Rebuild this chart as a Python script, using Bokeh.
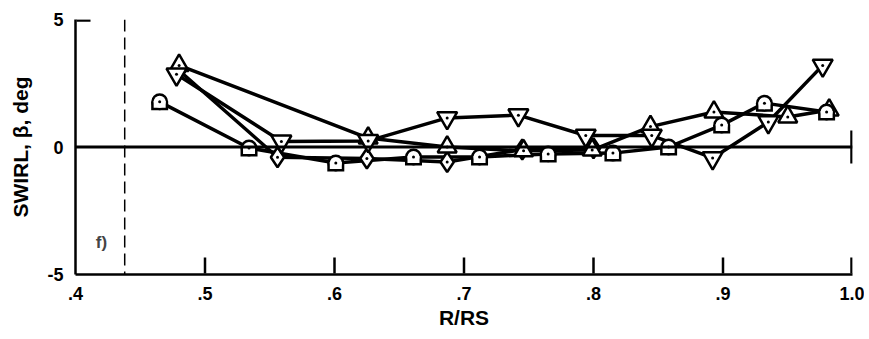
from bokeh.plotting import figure
from bokeh.models import Range1d, FixedTicker, Span, Label, Arrow
from bokeh.embed import file_html
from bokeh.resources import INLINE

# ---- data ----
tomb_x = [0.465, 0.534, 0.601, 0.661, 0.712, 0.765, 0.815, 0.858, 0.899, 0.932, 0.980]
tomb_y = [1.77, -0.04, -0.63, -0.39, -0.39, -0.27, -0.24, 0.00, 0.86, 1.72, 1.37]

dia_x = [0.480, 0.556, 0.625, 0.687, 0.745, 0.800]
dia_y = [3.00, -0.40, -0.45, -0.59, -0.10, -0.05]

dtri_x = [0.478, 0.559, 0.626, 0.687, 0.742, 0.794, 0.845, 0.892, 0.935, 0.977]
dtri_y = [2.85, 0.22, 0.24, 1.14, 1.25, 0.45, 0.45, -0.43, 0.98, 3.20]

utri_x = [0.480, 0.626, 0.687, 0.746, 0.799, 0.844, 0.893, 0.950, 0.982]
utri_y = [3.20, 0.35, 0.00, -0.15, -0.12, 0.80, 1.37, 1.18, 1.45]

x_ticks = [0.4, 0.5, 0.6, 0.7, 0.8, 0.9, 1.0]
x_tick_labels = [".4", ".5", ".6", ".7", ".8", ".9", "1.0"]
y_ticks = [-5, 0, 5]
y_tick_labels = ["-5", "0", "5"]
x_label = "R/RS"
y_label = "SWIRL, \u03b2, deg"
panel_label = "f)"
panel_label_pos = (0.42, -3.75)
hub_x = 0.438
zero_tick_half = 0.65

FONT = "Liberation Sans"
X_MIN, X_MAX = 0.4, 1.0
Y_MIN, Y_MAX = -5.0, 5.0
FRAME_W, FRAME_H = 777, 255
PPU = FRAME_H / (Y_MAX - Y_MIN)
PPX = FRAME_W / (X_MAX - X_MIN)

p = figure(frame_width=FRAME_W, frame_height=FRAME_H,
           x_range=Range1d(X_MIN, X_MAX), y_range=Range1d(Y_MIN, Y_MAX),
           output_backend="svg", toolbar_location=None,
           min_border_left=75, min_border_right=12, min_border_top=19, min_border_bottom=62)
p.outline_line_color = None
p.grid.visible = False
p.background_fill_color = "white"
p.border_fill_color = "white"

for ax in (p.xaxis[0], p.yaxis[0]):
    ax.axis_line_width = 2.5
    ax.axis_line_color = "black"
    ax.major_tick_line_color = None
    ax.major_tick_in = 0
    ax.major_tick_out = 0
    ax.minor_tick_line_color = None
    ax.major_label_text_font = FONT
    ax.major_label_text_font_style = "bold"
    ax.major_label_text_font_size = "18px"
    ax.major_label_text_color = "black"
    ax.axis_label_text_font = FONT
    ax.axis_label_text_font_style = "bold"
    ax.axis_label_text_font_size = "21px"
    ax.axis_label_text_color = "black"

p.xaxis.ticker = FixedTicker(ticks=x_ticks)
p.xaxis.major_label_overrides = {t: l for t, l in zip(x_ticks, x_tick_labels)}
p.xaxis.major_label_standoff = 12
p.xaxis.axis_label = x_label
p.xaxis.axis_label_standoff = 3

p.yaxis.ticker = FixedTicker(ticks=y_ticks)
p.yaxis.major_label_overrides = {t: l for t, l in zip(y_ticks, y_tick_labels)}
p.yaxis.major_label_standoff = 12
p.yaxis.axis_label = y_label
p.yaxis.axis_label_standoff = 12

# zero line and hub line
p.add_layout(Span(location=0, dimension="width", line_color="black", line_width=3))
p.add_layout(Span(location=hub_x, dimension="height", line_color="black", line_width=1.5, line_dash="12 6"))
p.add_layout(Label(x=panel_label_pos[0], y=panel_label_pos[1], text=panel_label, text_font=FONT,
                   text_font_style="bold", text_font_size="17px", text_align="center", text_baseline="middle"))

# inward tick marks, drawn from the tick arrays as head-less arrow annotations
X_TICK_LEN = 17.0 / PPU
Y_TICK_LEN = 15.0 / PPX
EDGE_Y = 1.0 / PPU
EDGE_X = 1.0 / PPX
for t in x_ticks[1:]:
    tx = min(t, X_MAX - EDGE_X)
    p.add_layout(Arrow(end=None, start=None, x_start=tx, y_start=Y_MIN + EDGE_Y, x_end=tx,
                       y_end=Y_MIN + X_TICK_LEN, line_color="black", line_width=2.5))
p.add_layout(Arrow(end=None, start=None, x_start=X_MIN + EDGE_X, y_start=Y_MAX - EDGE_Y,
                   x_end=X_MIN + Y_TICK_LEN, y_end=Y_MAX - EDGE_Y, line_color="black", line_width=2.5))
p.add_layout(Arrow(end=None, start=None, x_start=X_MAX - EDGE_X, y_start=-zero_tick_half,
                   x_end=X_MAX - EDGE_X, y_end=zero_tick_half, line_color="black", line_width=2.5))

LW = 3.5
for xs, ys in ((tomb_x, tomb_y), (dia_x, dia_y), (dtri_x, dtri_y), (utri_x, utri_y)):
    p.line(xs, ys, line_color="black", line_width=LW, line_join="round", line_cap="round")

ML = 2.5
DOT = 3
p.scatter(dia_x, dia_y, marker="diamond", size=20, fill_color="white", line_color="black", line_width=ML)
p.scatter(dia_x, dia_y, marker="circle", size=DOT, fill_color="black", line_color=None)
p.scatter(utri_x, utri_y, marker="triangle", size=19, fill_color="white", line_color="black", line_width=ML)
p.scatter(utri_x, utri_y, marker="circle", size=DOT, fill_color="black", line_color=None)
p.scatter(dtri_x, dtri_y, marker="inverted_triangle", size=20, fill_color="white", line_color="black", line_width=ML)
p.scatter(dtri_x, dtri_y, marker="circle", size=DOT, fill_color="black", line_color=None)

# tombstone marker: round top, flat bottom (layered circle + rect)
W = 17.0
T = 2.5
outer_dy = -(W / 4) / PPU
tomb_y_outer = [y + outer_dy for y in tomb_y]
inner_h = W / 2 - T + 1
inner_dy = -((W / 2 - T) / 2 - 0.5) / PPU
tomb_y_inner = [y + inner_dy for y in tomb_y]
p.scatter(tomb_x, tomb_y, marker="circle", size=W, fill_color="black", line_color=None)
p.rect(tomb_x, tomb_y_outer, width=W, height=W / 2, width_units="screen", height_units="screen",
       fill_color="black", line_color=None)
p.scatter(tomb_x, tomb_y, marker="circle", size=W - 2 * T, fill_color="white", line_color=None)
p.rect(tomb_x, tomb_y_inner, width=W - 2 * T, height=inner_h, width_units="screen", height_units="screen",
       fill_color="white", line_color=None)
p.scatter(tomb_x, tomb_y, marker="circle", size=DOT, fill_color="black", line_color=None)

open("out.html", "w").write(file_html(p, INLINE))
